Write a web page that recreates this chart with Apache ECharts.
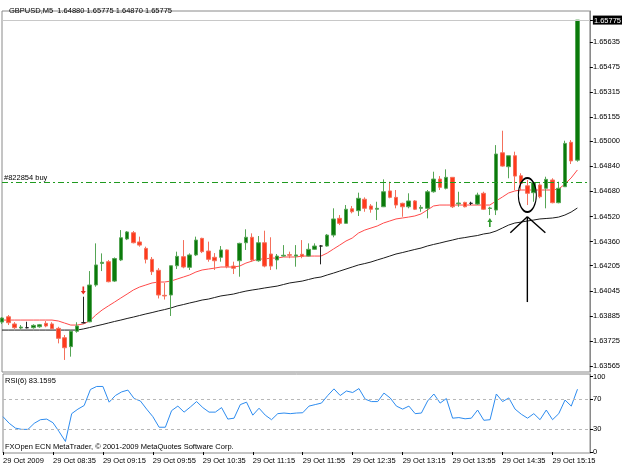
<!DOCTYPE html>
<html><head><meta charset="utf-8">
<script src="https://cdn.jsdelivr.net/npm/echarts@6/dist/echarts.min.js"></script>
<style>html,body{margin:0;padding:0;background:#fff}#c{width:625px;height:469px}</style>
</head><body><div id="c"></div>
<script>
const symbolName = 'GBPUSD,M5';
const times = ["07:55","08:00","08:05","08:10","08:15","08:20","08:25","08:30",
"08:35","08:40","08:45","08:50","08:55","09:00","09:05","09:10",
"09:15","09:20","09:25","09:30","09:35","09:40","09:45","09:50",
"09:55","10:00","10:05","10:10","10:15","10:20","10:25","10:30",
"10:35","10:40","10:45","10:50","10:55","11:00","11:05","11:10",
"11:15","11:20","11:25","11:30","11:35","11:40","11:45","11:50",
"11:55","12:00","12:05","12:10","12:15","12:20","12:25","12:30",
"12:35","12:40","12:45","12:50","12:55","13:00","13:05","13:10",
"13:15","13:20","13:25","13:30","13:35","13:40","13:45","13:50",
"13:55","14:00","14:05","14:10","14:15","14:20","14:25","14:30",
"14:35","14:40","14:45","14:50","14:55","15:00","15:05","15:10",
"15:15","15:20","15:25","15:30","15:35","15:40","15:45"];
const timeLabels = ["29 Oct 2009","29 Oct 08:35","29 Oct 09:15","29 Oct 09:55","29 Oct 10:35","29 Oct 11:15","29 Oct 11:55","29 Oct 12:35","29 Oct 13:15","29 Oct 13:55","29 Oct 14:35","29 Oct 15:15"];

const opens = [1.63845,1.63879,1.63833,1.63807,1.63809,1.63809,1.63815,1.63837,1.63833,1.63805,
1.63745,1.63688,1.63786,1.63841,1.63847,1.64082,1.64220,1.64231,1.64107,1.64242,
1.64376,1.64416,1.64357,1.64316,1.64246,1.64176,1.64016,1.64018,1.64205,1.64263,
1.64195,1.64274,1.64380,1.64299,1.64259,1.64259,1.64306,1.64203,1.64237,1.64352,
1.64387,1.64237,1.64352,1.64280,1.64242,1.64267,1.64276,1.64267,1.64278,1.64267,
1.64310,1.64331,1.64331,1.64401,1.64508,1.64476,1.64569,1.64557,1.64630,1.64587,
1.64566,1.64582,1.64683,1.64642,1.64604,1.64582,1.64619,1.64572,1.64572,1.64678,
1.64759,1.64700,1.64770,1.64601,1.64610,1.64604,1.64599,1.64668,1.64571,1.64561,
1.64927,1.64838,1.64908,1.64780,1.64716,1.64672,1.64721,1.64700,1.64753,1.64608,
1.64710,1.64994,1.64880];
const closes = [1.63871,1.63841,1.63809,1.63813,1.63809,1.63824,1.63828,1.63820,1.63803,1.63741,
1.63681,1.63786,1.63820,1.63841,1.64082,1.64210,1.64227,1.64103,1.64251,1.64384,
1.64421,1.64352,1.64337,1.64246,1.64167,1.64018,1.64012,1.64205,1.64265,1.64197,
1.64274,1.64369,1.64295,1.64246,1.64237,1.64306,1.64199,1.64189,1.64348,1.64387,
1.64242,1.64352,1.64203,1.64203,1.64267,1.64272,1.64272,1.64274,1.64265,1.64310,
1.64331,1.64331,1.64401,1.64504,1.64476,1.64566,1.64550,1.64636,1.64572,1.64566,
1.64572,1.64678,1.64642,1.64593,1.64582,1.64619,1.64566,1.64578,1.64678,1.64759,
1.64706,1.64770,1.64582,1.64606,1.64582,1.64604,1.64657,1.64566,1.64574,1.64919,
1.64842,1.64908,1.64778,1.64732,1.64668,1.64736,1.64646,1.64757,1.64608,1.64700,
1.64987,1.64875,1.65775];
const lows = [1.63833,1.63826,1.63801,1.63798,1.63805,1.63803,1.63809,1.63812,1.63799,1.63709,
1.63603,1.63624,1.63777,1.63837,1.63844,1.64071,1.64171,1.64099,1.64101,1.64235,
1.64369,1.64348,1.64327,1.64220,1.64146,1.63996,1.63989,1.63884,1.64184,1.64189,
1.64178,1.64267,1.64286,1.64231,1.64178,1.64231,1.64189,1.64152,1.64135,1.64306,
1.64231,1.64231,1.64195,1.64178,1.64182,1.64263,1.64253,1.64199,1.64253,1.64264,
1.64306,1.64214,1.64327,1.64387,1.64465,1.64475,1.64540,1.64523,1.64550,1.64544,
1.64497,1.64580,1.64636,1.64572,1.64518,1.64572,1.64561,1.64550,1.64508,1.64672,
1.64689,1.64693,1.64574,1.64582,1.64578,1.64593,1.64593,1.64561,1.64529,1.64529,
1.64838,1.64764,1.64689,1.64689,1.64593,1.64614,1.64636,1.64572,1.64604,1.64604,
1.64710,1.64855,1.64870];
const highs = [1.63877,1.63890,1.63845,1.63826,1.63847,1.63831,1.63833,1.63852,1.63844,1.63815,
1.63762,1.63794,1.63844,1.64007,1.64171,1.64348,1.64284,1.64242,1.64258,1.64433,
1.64427,1.64427,1.64391,1.64327,1.64261,1.64190,1.64095,1.64205,1.64295,1.64369,
1.64284,1.64391,1.64384,1.64359,1.64286,1.64331,1.64309,1.64231,1.64352,1.64438,
1.64412,1.64395,1.64429,1.64387,1.64280,1.64337,1.64295,1.64337,1.64369,1.64348,
1.64348,1.64337,1.64408,1.64572,1.64529,1.64593,1.64587,1.64672,1.64642,1.64599,
1.64614,1.64757,1.64742,1.64689,1.64608,1.64668,1.64625,1.64593,1.64689,1.64806,
1.64778,1.64821,1.64772,1.64678,1.64614,1.64614,1.64672,1.64678,1.64582,1.64976,
1.65068,1.64908,1.64934,1.64796,1.64753,1.64742,1.64732,1.64774,1.64764,1.64742,
1.65004,1.65008,1.65775];
const maFast = [1.63858,1.63858,1.63858,1.63858,1.63858,1.63858,1.63858,1.63858,1.63858,1.63852,
1.63839,1.63826,1.63826,1.63833,1.63852,1.63890,1.63922,1.63948,1.63973,1.63999,
1.64024,1.64050,1.64069,1.64082,1.64095,1.64101,1.64101,1.64107,1.64120,1.64133,
1.64146,1.64165,1.64178,1.64184,1.64190,1.64197,1.64197,1.64197,1.64203,1.64222,
1.64235,1.64248,1.64248,1.64254,1.64254,1.64261,1.64261,1.64261,1.64267,1.64267,
1.64267,1.64267,1.64286,1.64312,1.64337,1.64363,1.64382,1.64414,1.64433,1.64446,
1.64459,1.64478,1.64491,1.64504,1.64510,1.64516,1.64523,1.64536,1.64561,1.64587,
1.64593,1.64593,1.64593,1.64593,1.64593,1.64593,1.64593,1.64593,1.64593,1.64619,
1.64644,1.64670,1.64683,1.64689,1.64689,1.64689,1.64689,1.64689,1.64689,1.64695,
1.64727,1.64766,1.64817];
const maSlow = [1.63794,1.63794,1.63794,1.63794,1.63794,1.63794,1.63794,1.63794,1.63794,1.63794,
1.63794,1.63794,1.63794,1.63801,1.63810,1.63820,1.63829,1.63839,1.63849,1.63858,
1.63868,1.63877,1.63887,1.63897,1.63906,1.63916,1.63925,1.63935,1.63948,1.63957,
1.63967,1.63976,1.63986,1.63992,1.64002,1.64012,1.64018,1.64024,1.64034,1.64043,
1.64050,1.64056,1.64063,1.64069,1.64075,1.64085,1.64095,1.64101,1.64107,1.64117,
1.64127,1.64133,1.64146,1.64158,1.64171,1.64184,1.64197,1.64210,1.64219,1.64229,
1.64242,1.64254,1.64267,1.64280,1.64289,1.64299,1.64309,1.64318,1.64331,1.64341,
1.64350,1.64360,1.64369,1.64379,1.64385,1.64392,1.64398,1.64408,1.64414,1.64427,
1.64446,1.64465,1.64478,1.64484,1.64491,1.64497,1.64504,1.64507,1.64510,1.64516,
1.64529,1.64548,1.64574];
const rsi = [46.8,38,31.6,30,30,38,42.8,43.6,38.8,26.8,
14,50.8,56.8,61.6,82.8,86.8,86.8,66,74.8,79.6,
82,70.8,67.6,56.8,46.8,32.8,32.8,54.8,60.8,52.8,
59.6,66.8,58.8,52.8,52.8,58.8,43.6,44.8,62.8,66,
48.8,58,48.8,42.8,50.8,51.6,50.8,51.6,52,60.8,
62.8,64.8,74.8,83.6,74.8,80.8,78.8,84,70,66.8,
66.8,78,71.6,60.8,56.8,60.8,50.8,51.6,67.6,76.8,
64.8,70.8,44.8,45.6,44,44.8,55.6,42,42.8,76.8,
66.8,71.6,56.8,50,44.8,50.8,42.8,55.6,42.8,50.8,
68.8,60.8,83.1595];
const priceTicks = [1.63565,1.63725,1.63885,1.64045,1.64205,1.64360,1.64520,1.64680,1.64840,1.65000,1.65155,1.65315,1.65475,1.65635,1.65775];
const rsiTicks = [0,30,70,100];
const rsiLevels = [70,30];
const orderPrice = 1.64737;
const orderLabel = '#822854 buy';
const sellArrow = {bar:13, price:1.64047};
const buyArrow = {bar:78, price:1.64481};
const circleMark = {bar:84, price:1.64657};
const pointerTop = 1.64518, pointerBottom = 1.63973;

const n = opens.length;
const last = n - 1;
const f5 = v => v.toFixed(5);
const candleData = opens.map((o, i) => [o, closes[i], lows[i], highs[i]]);
const FONT = 'Liberation Sans';
const isTimeTick = i => i % 8 === 0 && i / 8 < timeLabels.length;
const firstCat = times[0], lastCat = times[times.length - 1];

const chart = echarts.init(document.getElementById('c'), null, {renderer: 'canvas'});
const option = {
  animation: false,
  backgroundColor: '#ffffff',
  textStyle: {fontFamily: FONT, fontSize: 7.5, color: '#000'},
  title: {
    text: symbolName + '  ' + f5(opens[last]) + ' ' + f5(highs[last]) + ' ' + f5(lows[last]) + ' ' + f5(closes[last]),
    left: 4, top: 2,
    textStyle: {fontFamily: FONT, fontSize: 7.5, fontWeight: 'normal', color: '#000'}
  },
  grid: [
    {left: 2, top: 11, width: 588, height: 361, show: true, borderColor: '#8a8a8a', borderWidth: 1, backgroundColor: '#fff'},
    {left: 2, top: 374, width: 588, height: 79, show: true, borderColor: '#8a8a8a', borderWidth: 1, backgroundColor: '#fff'}
  ],
  xAxis: [
    {type: 'category', gridIndex: 0, data: times, boundaryGap: false,
     axisLine: {show: false}, axisTick: {show: false}, axisLabel: {show: false}, splitLine: {show: false}},
    {type: 'category', gridIndex: 1, data: times, boundaryGap: false,
     axisLine: {show: false},
     axisTick: {show: true, interval: isTimeTick, length: 3, lineStyle: {color: '#000'}},
     axisLabel: {interval: isTimeTick, formatter: (v, i) => timeLabels[i / 8], align: 'left', margin: 4,
                 fontFamily: FONT, fontSize: 7.5, color: '#000'},
     splitLine: {show: false}}
  ],
  yAxis: [
    {type: 'value', gridIndex: 0, position: 'right', min: 1.63526, max: 1.65833,
     axisLine: {show: true, lineStyle: {color: '#8a8a8a'}},
     axisTick: {show: true, customValues: priceTicks, length: 3, lineStyle: {color: '#000'}},
     axisLabel: {customValues: priceTicks, margin: 3, fontFamily: FONT, fontSize: 7.5, color: '#000',
       formatter: v => Math.abs(v - closes[last]) < 1e-7 ? '{cur|' + f5(v) + '}' : f5(v),
       rich: {cur: {backgroundColor: '#000', color: '#fff', fontFamily: FONT, fontSize: 7.5, padding: [1, 1, 0, 1]}}},
     splitLine: {show: false}},
    {type: 'value', gridIndex: 1, position: 'right', min: -1.3, max: 103.3,
     axisLine: {show: true, lineStyle: {color: '#8a8a8a'}},
     axisTick: {show: true, customValues: rsiTicks, length: 3, lineStyle: {color: '#000'}},
     axisLabel: {customValues: rsiTicks, margin: 3, fontFamily: FONT, fontSize: 7.5, color: '#000', formatter: v => String(v)},
     splitLine: {show: false}}
  ],
  graphic: [
    {type: 'text', id: 'rsiTitle', left: 5, top: 377, style: {text: 'RSI(6) ' + rsi[last].toFixed(4), font: '7.5px ' + FONT, fill: '#000'}},
    {type: 'text', id: 'copy', left: 5, top: 443, style: {text: 'FXOpen ECN MetaTrader, \u00a9 2001-2009 MetaQuotes Software Corp.', font: '7.5px ' + FONT, fill: '#000'}}
  ],
  series: [
    {type: 'line', name: 'Bid', xAxisIndex: 0, yAxisIndex: 0, data: [], silent: true,
     markLine: {silent: true, symbol: 'none', animation: false,
       data: [
         [{coord: [firstCat, closes[last]]}, {coord: [lastCat, closes[last]]}]
       ],
       lineStyle: {color: '#c8c8c8', type: 'solid', width: 1}, label: {show: false}}},
    {type: 'line', name: 'Order', xAxisIndex: 0, yAxisIndex: 0, data: [], silent: true,
     markLine: {silent: true, symbol: 'none', animation: false,
       data: [
         [{coord: [firstCat, orderPrice]}, {coord: [lastCat, orderPrice]}]
       ],
       lineStyle: {color: '#1f9a1f', type: [6, 3, 2, 3], width: 1},
       label: {show: true, position: 'insideStartTop', formatter: orderLabel, distance: [2, 1], fontFamily: FONT, fontSize: 7.5, color: '#000'}}},
    {type: 'candlestick', xAxisIndex: 0, yAxisIndex: 0, data: candleData, barWidth: 4, z: 3,
     itemStyle: {color: '#0b7a0b', color0: '#ff3a1c', borderColor: '#55a555', borderColor0: '#f4705c', borderColorDoji: '#222', borderWidth: 1},
     markPoint: {silent: true, animation: false, label: {show: false},
       data: [
         {coord: [sellArrow.bar, sellArrow.price], symbol: 'path://M2,0 H4 V5 H6 L3,9 L0,5 H2 Z', symbolSize: [5, 8], itemStyle: {color: '#e52b1f'}},
         {coord: [buyArrow.bar, buyArrow.price], symbol: 'path://M3,0 L6,4 H4 V9 H2 V4 H0 Z', symbolSize: [5, 9], itemStyle: {color: '#2f9a2f'}},
         {coord: [circleMark.bar, circleMark.price], symbol: 'circle', symbolSize: [18, 34], itemStyle: {color: 'rgba(0,0,0,0)', borderColor: '#000', borderWidth: 1.4}}
       ]}
    },
    {type: 'line', name: 'MA fast', xAxisIndex: 0, yAxisIndex: 0, data: maFast, showSymbol: false, z: 2,
     lineStyle: {color: '#ff4a4a', width: 1}, silent: true},
    {type: 'line', name: 'MA slow', xAxisIndex: 0, yAxisIndex: 0, data: maSlow, showSymbol: false, z: 2,
     lineStyle: {color: '#1c1c1c', width: 1}, silent: true},
    {type: 'line', name: 'RSI(6)', xAxisIndex: 1, yAxisIndex: 1, data: rsi, showSymbol: false,
     lineStyle: {color: '#2d8cf0', width: 1}, silent: true,
     markLine: {silent: true, symbol: 'none', label: {show: false},
       lineStyle: {color: '#b8b8b8', type: [3, 3], width: 1},
       data: rsiLevels.map(v => ({yAxis: v}))}}
  ]
};
chart.setOption(option);

// hand-drawn pointer under the circled bar, anchored to data coordinates
const tip = chart.convertToPixel({xAxisIndex: 0, yAxisIndex: 0}, [circleMark.bar, pointerTop]);
const bot = chart.convertToPixel({xAxisIndex: 0, yAxisIndex: 0}, [circleMark.bar, pointerBottom]);
const ls = {stroke: '#000', lineWidth: 1.4};
chart.setOption({graphic: [
  {type: 'line', id: 'pv', shape: {x1: tip[0], y1: tip[1], x2: bot[0], y2: bot[1]}, style: ls, z: 10},
  {type: 'line', id: 'pl', shape: {x1: tip[0], y1: tip[1], x2: tip[0] - 17, y2: tip[1] + 16}, style: ls, z: 10},
  {type: 'line', id: 'pr', shape: {x1: tip[0], y1: tip[1], x2: tip[0] + 18, y2: tip[1] + 16}, style: ls, z: 10}
]});
</script>
</body></html>
